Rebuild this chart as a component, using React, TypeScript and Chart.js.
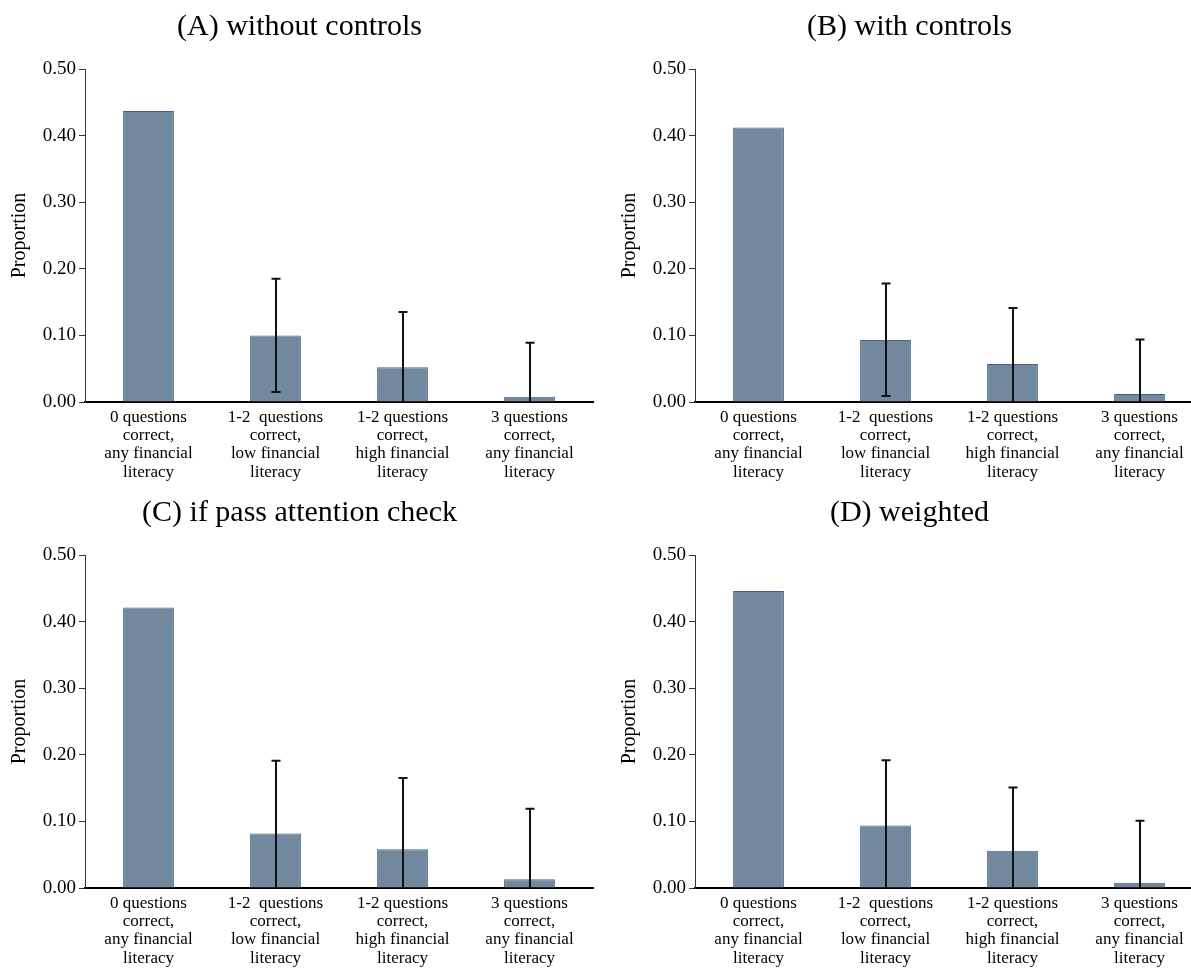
import React, { useEffect, useRef } from "react";
import { Chart, registerables } from "chart.js";

Chart.register(...registerables);

const categories: string[][] = [
  ["0 questions", "correct,", "any financial", "literacy"],
  ["1-2  questions", "correct,", "low financial", "literacy"],
  ["1-2 questions", "correct,", "high financial", "literacy"],
  ["3 questions", "correct,", "any financial", "literacy"],
];

const yTicks = [0, 0.1, 0.2, 0.3, 0.4, 0.5];

const titleA = "(A) without controls";
const valuesA = [0.437, 0.1, 0.052, 0.008];
const upperA = [null, 0.185, 0.135, 0.089];
const lowerA = [null, 0.015, 0, 0];

const titleB = "(B) with controls";
const valuesB = [0.412, 0.093, 0.057, 0.012];
const upperB = [null, 0.178, 0.141, 0.094];
const lowerB = [null, 0.009, 0, 0];

const titleC = "(C) if pass attention check";
const valuesC = [0.421, 0.082, 0.058, 0.013];
const upperC = [null, 0.191, 0.165, 0.119];
const lowerC = [null, 0, 0, 0];

const titleD = "(D) weighted";
const valuesD = [0.446, 0.094, 0.056, 0.008];
const upperD = [null, 0.192, 0.151, 0.101];
const lowerD = [null, 0, 0, 0];

const SERIF = '"Liberation Serif", serif';

type PanelProps = {
  title: string;
  values: number[];
  upper: (number | null)[];
  lower: (number | null)[];
  left: number;
  top: number;
  width: number;
  height: number;
};

function Panel({ title, values, upper, lower, left, top, width, height }: PanelProps) {
  const ref = useRef<HTMLCanvasElement | null>(null);
  useEffect(() => {
    if (!ref.current) return;
    const plotBottom = 402;
    const errorBars = {
      id: "errorBars",
      afterDatasetsDraw(chart: any) {
        const ctx = chart.ctx;
        const meta = chart.getDatasetMeta(0);
        const ys = chart.scales.y;
        ctx.save();
        ctx.strokeStyle = "#111";
        ctx.lineWidth = 2;
        meta.data.forEach((bar: any, i: number) => {
          const up = upper[i];
          const lo = lower[i];
          if (up == null || lo == null) return;
          const x = Math.round(bar.x);
          const yt = ys.getPixelForValue(up);
          const yb = ys.getPixelForValue(Math.max(lo, 0));
          ctx.beginPath();
          ctx.moveTo(x, yt);
          ctx.lineTo(x, yb);
          ctx.moveTo(x - 4.5, yt);
          ctx.lineTo(x + 4.5, yt);
          if (lo > 0) {
            ctx.moveTo(x - 4.5, yb);
            ctx.lineTo(x + 4.5, yb);
          }
          ctx.stroke();
        });
        ctx.restore();
      },
    };
    const panelTitle = {
      id: "panelTitle",
      afterDraw(chart: any) {
        const ctx = chart.ctx;
        ctx.save();
        ctx.fillStyle = "#000";
        ctx.font = `30px ${SERIF}`;
        ctx.textAlign = "center";
        ctx.textBaseline = "middle";
        ctx.fillText(title, 299.5, 27);
        ctx.restore();
      },
    };
    const chart = new Chart(ref.current, {
      type: "bar",
      data: {
        labels: categories,
        datasets: [
          {
            data: values,
            backgroundColor: "#71889f",
            borderColor: "#48607f",
            borderWidth: 1,
            categoryPercentage: 1,
            barPercentage: 0.4,
          },
        ],
      },
      options: {
        responsive: false,
        animation: false,
        events: [],
        layout: { padding: { left: 0, right: 7, top: 69, bottom: 0 } },
        plugins: {
          legend: { display: false },
          tooltip: { enabled: false },
          title: { display: false },
        },
        scales: {
          x: {
            afterFit: (s: any) => {
              s.height = height - plotBottom;
            },
            grid: { display: false, drawTicks: false },
            border: { display: true, color: "#000", width: 2 },
            ticks: {
              autoSkip: false,
              maxRotation: 0,
              minRotation: 0,
              padding: 6,
              color: "#000",
              font: { family: SERIF, size: 17, lineHeight: 1.08 },
            },
          },
          y: {
            min: 0,
            max: 0.5,
            afterFit: (s: any) => {
              s.width = 85;
            },
            afterBuildTicks: (s: any) => {
              s.ticks = yTicks.map((v) => ({ value: v }));
            },
            grid: {
              drawOnChartArea: false,
              drawTicks: true,
              tickLength: 6,
              tickColor: "#333",
              tickWidth: 1,
            },
            border: { display: true, color: "#333", width: 1 },
            ticks: {
              padding: 3,
              color: "#000",
              font: { family: SERIF, size: 19 },
              callback: (v: any) => Number(v).toFixed(2),
            },
            title: {
              display: true,
              text: "Proportion",
              color: "#000",
              font: { family: SERIF, size: 20, lineHeight: 1.2 },
              padding: { top: 8, bottom: 0 },
            },
          },
        },
      },
      plugins: [errorBars, panelTitle],
    });
    return () => chart.destroy();
  }, []);
  return (
    <canvas
      ref={ref}
      width={width}
      height={height}
      style={{ position: "absolute", left, top, width, height }}
    />
  );
}

export default function App() {
  return (
    <div
      style={{
        position: "fixed",
        left: 0,
        top: 0,
        width: 1191,
        height: 969,
        overflow: "hidden",
        background: "#fff",
      }}
    >
      <Panel title={titleA} values={valuesA} upper={upperA} lower={lowerA} left={0} top={0} width={600} height={485} />
      <Panel title={titleB} values={valuesB} upper={upperB} lower={lowerB} left={610} top={0} width={600} height={485} />
      <Panel title={titleC} values={valuesC} upper={upperC} lower={lowerC} left={0} top={486} width={600} height={483} />
      <Panel title={titleD} values={valuesD} upper={upperD} lower={lowerD} left={610} top={486} width={600} height={483} />
    </div>
  );
}
